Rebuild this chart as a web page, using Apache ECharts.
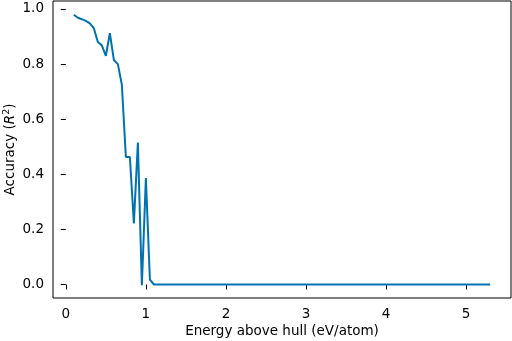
<!DOCTYPE html>
<html>
<head>
<meta charset="utf-8">
<script src="https://cdn.jsdelivr.net/npm/echarts@6/dist/echarts.min.js"></script>
<style>html,body{margin:0;padding:0;background:#fff}#c{width:512px;height:341px}</style>
</head>
<body>
<div id="c"></div>
<script>
var energy = [0.10,0.15,0.20,0.25,0.30,0.35,0.40,0.45,0.50,0.55,0.60,0.65,0.70,0.75,0.80,0.85,0.90,0.95,1.00,1.05,1.10,1.50,2.00,3.00,4.00,5.30];
var accuracy = [0.979,0.968,0.963,0.957,0.948,0.930,0.880,0.868,0.830,0.912,0.815,0.800,0.725,0.463,0.463,0.222,0.515,-0.003,0.386,0.018,0.0,0.0,0.0,0.0,0.0,0.0];
var xTicks = [0,1,2,3,4,5];
var yTicks = [0.0,0.2,0.4,0.6,0.8,1.0];

var font = 'DejaVu Sans';
var chart = echarts.init(document.getElementById('c'), null, {renderer:'canvas'});
chart.setOption({
  animation:false,
  grid:{left:53,right:1,top:1,bottom:43,show:true,borderColor:'#000',borderWidth:1,backgroundColor:'transparent',outerBoundsMode:'none',containLabel:false},
  xAxis:{
    type:'value', min:-0.16, max:5.56,
    name:'Energy above hull (eV/atom)', nameLocation:'middle', nameGap:26, nameMoveOverlap:false,
    nameTextStyle:{fontFamily:font,fontSize:13.5,color:'#000'},
    axisLine:{show:false},
    axisTick:{show:true,length:5,lineStyle:{color:'#000',width:1},customValues:xTicks},
    axisLabel:{fontFamily:font,fontSize:13.5,color:'#000',margin:9,customValues:xTicks,formatter:function(v){return String(v);}},
    splitLine:{show:false}
  },
  yAxis:{
    type:'value', min:-0.049, max:1.029,
    name:'Accuracy ({i|R}{s|2})', nameLocation:'middle', nameGap:35, nameRotate:90, nameMoveOverlap:false,
    nameTextStyle:{fontFamily:font,fontSize:13.5,color:'#000',
      rich:{i:{fontFamily:font,fontSize:13.5,fontStyle:'italic',color:'#000'},
            s:{fontFamily:font,fontSize:9.5,color:'#000',verticalAlign:'top',padding:[0,0,6,0]}}},
    axisLine:{show:false},
    axisTick:{show:true,length:5,lineStyle:{color:'#000',width:1},customValues:yTicks},
    axisLabel:{fontFamily:font,fontSize:13.5,color:'#000',margin:9,customValues:yTicks,formatter:function(v){return v.toFixed(1);}},
    splitLine:{show:false}
  },
  series:[{
    type:'line', data:energy.map(function(e,i){return [e,accuracy[i]];}),
    showSymbol:false, symbol:'none',
    lineStyle:{color:'#0072B2',width:2},
    clip:true
  }]
});
</script>
</body>
</html>
